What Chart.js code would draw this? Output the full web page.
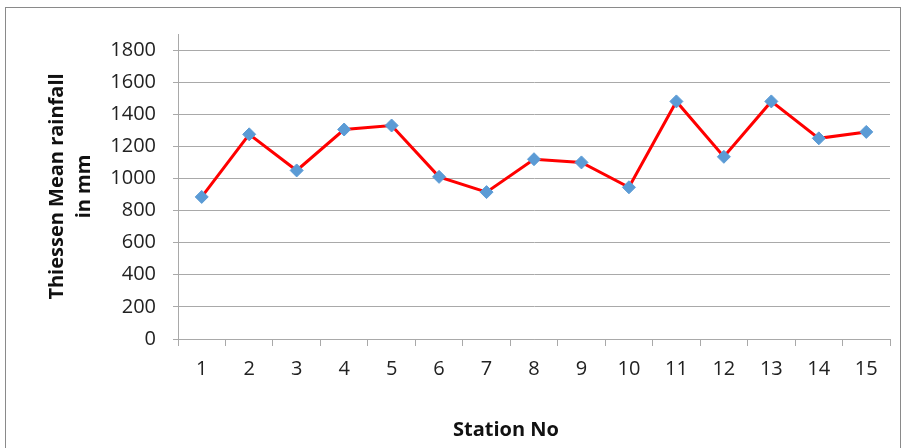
<!DOCTYPE html>
<html>
<head>
<meta charset="utf-8">
<script src="https://cdn.jsdelivr.net/npm/chart.js@4/dist/chart.umd.min.js"></script>
<style>
  html, body { margin: 0; padding: 0; background: #fff; }
  #wrap { position: relative; width: 904px; height: 448px; overflow: hidden; }
  #frame { position: absolute; left: 5px; top: 7px; width: 896px; height: 460px;
           border: 1px solid #8a8a8a; box-sizing: border-box; }
  canvas { position: absolute; left: 0; top: 0; }
</style>
</head>
<body>
<div id="wrap">
  <div id="frame"></div>
  <canvas id="c" width="904" height="448"></canvas>
</div>
<script>
// Thiessen mean rainfall per station
const stations = ['1','2','3','4','5','6','7','8','9','10','11','12','13','14','15'];
const rainfallMm = [885, 1275, 1050, 1305, 1330, 1010, 915, 1120, 1100, 945, 1480, 1135, 1480, 1250, 1290];
const yTickValues = [0, 200, 400, 600, 800, 1000, 1200, 1400, 1600, 1800];
const yTitle = ['Thiessen Mean rainfall', 'in mm'];
const xTitle = 'Station No';

const FONT = "'Open Sans', 'Liberation Sans', sans-serif";
const GRID = '#a9a9a9';

// x-axis title, centred under the plot the way the spreadsheet placed it
const xTitlePlugin = {
  id: 'xTitle',
  afterDraw(chart) {
    const ctx = chart.ctx;
    ctx.save();
    ctx.font = "bold 20px " + FONT;
    ctx.fillStyle = '#111';
    ctx.textAlign = 'center';
    ctx.textBaseline = 'middle';
    ctx.fillText(xTitle, 506, 430);
    ctx.restore();
  }
};

new Chart(document.getElementById('c'), {
  type: 'line',
  data: {
    labels: stations,
    datasets: [{
      data: rainfallMm,
      borderColor: '#ff0000',
      borderWidth: 3,
      tension: 0,
      pointStyle: 'rectRot',
      pointRadius: 6.5,
      pointHoverRadius: 6.5,
      pointBackgroundColor: '#5b9bd5',
      pointBorderColor: '#5b9bd5',
      pointBorderWidth: 1
    }]
  },
  options: {
    responsive: false,
    animation: false,
    layout: { padding: { left: 0, right: 14, top: 34, bottom: 0 } },
    plugins: { legend: { display: false }, tooltip: { enabled: false } },
    scales: {
      x: {
        type: 'category',
        offset: true,
        afterFit(s) { s.height = 109; },
        grid: {
          offset: true,
          drawOnChartArea: false,
          drawTicks: true,
          tickLength: 7,
          color: GRID
        },
        border: { color: GRID, width: 1 },
        ticks: {
          color: '#222',
          padding: 11,
          font: { family: FONT, size: 20 },
          maxRotation: 0
        }
      },
      y: {
        min: 0,
        max: 1900,
        afterFit(s) { s.width = 178; },
        afterBuildTicks(s) { s.ticks = yTickValues.map(v => ({ value: v })); },
        grid: { color: GRID, tickLength: 5, lineWidth: 1 },
        border: { color: GRID, width: 1 },
        ticks: {
          color: '#222',
          padding: 17,
          font: { family: FONT, size: 20 },
          callback: v => String(v)
        },
        title: {
          display: true,
          text: yTitle,
          color: '#111',
          font: { family: FONT, size: 20, weight: 'bold', lineHeight: 1.35 },
          padding: { top: 44, bottom: 0 }
        }
      }
    }
  },
  plugins: [xTitlePlugin]
});
</script>
</body>
</html>
